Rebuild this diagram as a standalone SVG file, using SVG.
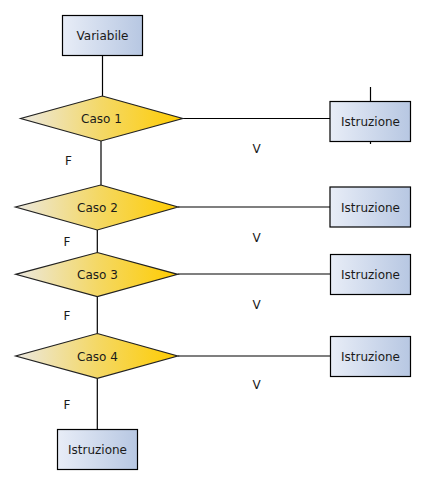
<svg xmlns="http://www.w3.org/2000/svg" width="426" height="485" viewBox="0 0 426 485">
<defs>
<linearGradient id="gBox" x1="0" y1="0" x2="1" y2="0">
<stop offset="0" stop-color="#e8edf7"/>
<stop offset="1" stop-color="#b7c7e2"/>
</linearGradient>
<linearGradient id="gDia" x1="0" y1="0" x2="1" y2="0">
<stop offset="0" stop-color="#ebe8e0"/>
<stop offset="0.5" stop-color="#f4d866"/>
<stop offset="1" stop-color="#ffcc00"/>
</linearGradient>
<style>
.box{fill:url(#gBox);stroke:#000;stroke-width:1.2}
.dia{fill:url(#gDia);stroke:#222;stroke-width:1.2}
.lbl{font-family:"DejaVu Sans",Verdana,sans-serif;font-size:12px;fill:#1a1a1a;text-anchor:middle}
.edge{stroke:#000;stroke-width:1.2;fill:none}
</style>
</defs>
<g id="connectors">
<path class="edge" d="M102.5 55.5 V96"/>
<path class="edge" d="M182.7 118.5 H330"/>
<path class="edge" d="M370.5 87 V101.5"/>
<path class="edge" d="M370.5 141.5 V144"/>
<path class="edge" d="M101 141 V185"/>
<path class="edge" d="M178 207 H330"/>
<path class="edge" d="M97.3 230 V252.5"/>
<path class="edge" d="M177.7 274 H330"/>
<path class="edge" d="M97.3 296.7 V333.5"/>
<path class="edge" d="M177.7 356 H330"/>
<path class="edge" d="M97.3 378.3 V429.5"/>
<text class="lbl" x="68.5" y="165">F</text>
<text class="lbl" x="67" y="246">F</text>
<text class="lbl" x="67" y="320">F</text>
<text class="lbl" x="67" y="409">F</text>
<text class="lbl" x="256.5" y="153">V</text>
<text class="lbl" x="256.5" y="242">V</text>
<text class="lbl" x="256.5" y="309">V</text>
<text class="lbl" x="256.5" y="389">V</text>
</g>
<g id="variabile">
<rect class="box" x="62.5" y="15.5" width="80" height="40"/>
<text class="lbl" x="102.5" y="40">Variabile</text>
</g>
<g id="caso1">
<polygon class="dia" points="102.3,96 182.7,118.5 101,141 20.7,118.5"/>
<text class="lbl" x="101.5" y="123">Caso 1</text>
</g>
<g id="istruzione1">
<rect class="box" x="330" y="101.5" width="80.5" height="40"/>
<text class="lbl" x="370.5" y="125.5">Istruzione</text>
</g>
<g id="caso2">
<polygon class="dia" points="100.7,185 178,207 97.3,230 15.5,207"/>
<text class="lbl" x="97.5" y="211.5">Caso 2</text>
</g>
<g id="istruzione2">
<rect class="box" x="330" y="187" width="80.5" height="40"/>
<text class="lbl" x="370.5" y="211.5">Istruzione</text>
</g>
<g id="caso3">
<polygon class="dia" points="97.3,252.5 177.7,274.3 97.3,296.7 15.7,274.3"/>
<text class="lbl" x="97.5" y="278.5">Caso 3</text>
</g>
<g id="istruzione3">
<rect class="box" x="330.5" y="254.5" width="80" height="40"/>
<text class="lbl" x="370.5" y="278.5">Istruzione</text>
</g>
<g id="caso4">
<polygon class="dia" points="97.3,333.5 177.7,356 97.3,378.3 15.7,356"/>
<text class="lbl" x="97.5" y="360.5">Caso 4</text>
</g>
<g id="istruzione4">
<rect class="box" x="330.5" y="336.5" width="80" height="40"/>
<text class="lbl" x="370.5" y="360.5">Istruzione</text>
</g>
<g id="istruzione5">
<rect class="box" x="57.5" y="429.5" width="80" height="40"/>
<text class="lbl" x="97.5" y="453.5">Istruzione</text>
</g>
</svg>
